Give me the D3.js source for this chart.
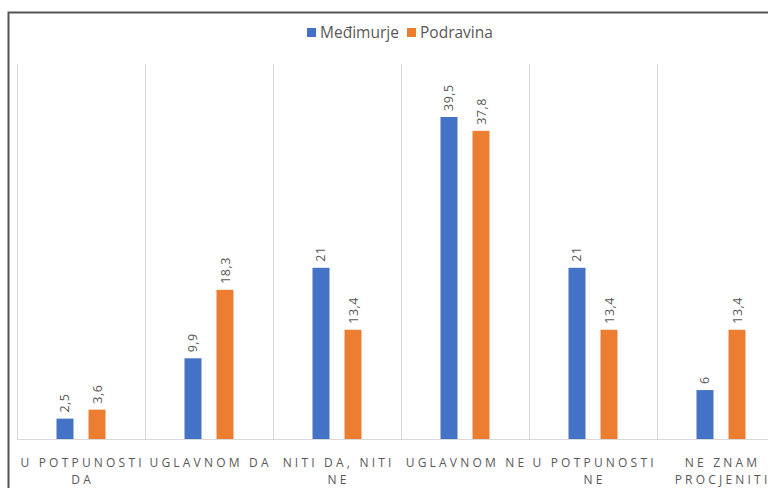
<!DOCTYPE html>
<html>
<head>
<meta charset="utf-8">
<script src="https://cdn.jsdelivr.net/npm/d3@7"></script>
<style>
  body { margin: 0; background: #fff; }
  text { font-family: "Open Sans", "Liberation Sans", sans-serif; }
</style>
</head>
<body>
<div id="chart"></div>
<script>
// data
var categories = ["U POTPUNOSTI DA", "UGLAVNOM DA", "NITI DA, NITI NE", "UGLAVNOM NE", "U POTPUNOSTI NE", "NE ZNAM PROCJENITI"];
var categoryLines = [["U POTPUNOSTI", "DA"], ["UGLAVNOM DA"], ["NITI DA, NITI", "NE"], ["UGLAVNOM NE"], ["U POTPUNOSTI", "NE"], ["NE ZNAM", "PROCJENITI"]];
var seriesNames = ["Međimurje", "Podravina"];
var medimurje = [2.5, 9.9, 21, 39.5, 21, 6];
var podravina = [3.6, 18.3, 13.4, 37.8, 13.4, 13.4];
var colors = ["#4472C4", "#ED7D31"];

var svgWidth = 768;
var svgHeight = 488;

var svg = d3.select("#chart")
  .append("svg")
  .attr("width", svgWidth)
  .attr("height", svgHeight);

// outer frame (cropped on the right and bottom)
svg.append("path")
  .attr("d", "M8.5,488 V12.5 H768")
  .attr("fill", "none")
  .attr("stroke", "#555")
  .attr("stroke-width", 2);

var plotLeft = 17, plotTop = 64, plotBottom = 439;
var bandWidth = 128;

var x0 = d3.scaleBand()
  .domain(categories)
  .range([plotLeft, plotLeft + bandWidth * categories.length])
  .paddingInner(0)
  .paddingOuter(0);

var x1 = d3.scaleBand()
  .domain(seriesNames)
  .range([-40, 40])
  .paddingInner(0.469)
  .paddingOuter(0.484);

var y = d3.scaleLinear()
  .domain([0, 46])
  .range([plotBottom, plotTop]);

// vertical separators between categories
var seps = d3.range(categories.length + 1);
svg.append("g").selectAll("line")
  .data(seps)
  .enter()
  .append("line")
  .attr("x1", function (d) { return plotLeft + d * bandWidth + 0.5; })
  .attr("x2", function (d) { return plotLeft + d * bandWidth + 0.5; })
  .attr("y1", plotTop)
  .attr("y2", plotBottom)
  .attr("stroke", "#d9d9d9");

// baseline
svg.append("line")
  .attr("x1", plotLeft)
  .attr("x2", svgWidth)
  .attr("y1", plotBottom + 0.5)
  .attr("y2", plotBottom + 0.5)
  .attr("stroke", "#d9d9d9");

var series = [medimurje, podravina];

series.forEach(function (vals, s) {
  var g = svg.append("g");
  g.selectAll("rect")
    .data(vals)
    .enter()
    .append("rect")
    .attr("x", function (d, i) { return x0(categories[i]) + x0.bandwidth() / 2 + x1(seriesNames[s]); })
    .attr("y", function (d) { return y(d); })
    .attr("width", x1.bandwidth())
    .attr("height", function (d) { return plotBottom - y(d); })
    .attr("fill", colors[s]);

  g.selectAll("text")
    .data(vals)
    .enter()
    .append("text")
    .attr("transform", function (d, i) {
      var cx = x0(categories[i]) + x0.bandwidth() / 2 + x1(seriesNames[s]) + x1.bandwidth() / 2;
      return "translate(" + (cx + 4.5) + "," + (y(d) - 6) + ") rotate(-90)";
    })
    .attr("fill", "#595959")
    .style("font-size", "12.5px")
    .style("letter-spacing", "0.5px")
    .text(function (d) { return String(d).replace(".", ","); });
});

// category labels
var labels = svg.append("g");
categoryLines.forEach(function (lines, i) {
  var t = labels.append("text")
    .attr("text-anchor", "middle")
    .attr("fill", "#595959")
    .style("font-size", "12px")
    .style("letter-spacing", "3.2px");
  lines.forEach(function (ln, j) {
    t.append("tspan")
      .attr("x", x0(categories[i]) + x0.bandwidth() / 2 + 1.6)
      .attr("y", 467 + j * 17)
      .text(ln);
  });
});

// legend
var legend = svg.append("g").attr("transform", "translate(307,28)");
seriesNames.forEach(function (name, i) {
  var lg = legend.append("g").attr("transform", "translate(" + (i * 100) + ",0)");
  lg.append("rect")
    .attr("width", 9)
    .attr("height", 9)
    .attr("fill", colors[i]);
  lg.append("text")
    .attr("x", 13)
    .attr("y", 10)
    .attr("fill", "#595959")
    .style("font-size", "15.5px")
    .text(name);
});
</script>
</body>
</html>
